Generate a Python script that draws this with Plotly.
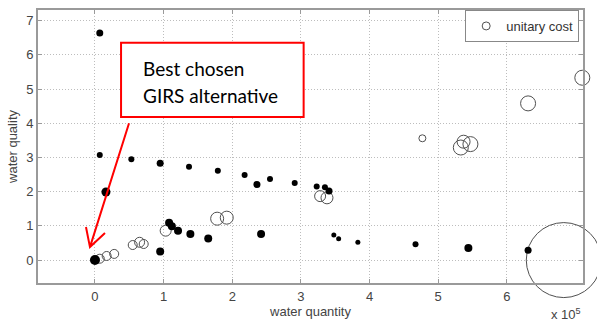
import plotly.graph_objects as go

# ---- data (x in units of 1e5) ----
quality_x = [0.07, 0.07, 0.16, 0.53, 0.95, 1.37, 1.79, 2.18, 2.36, 2.55, 2.91, 3.23, 3.35, 3.41,
             3.48, 3.55, 3.83, 4.67, 5.44, 6.31, 0.00, 0.95, 1.08, 1.12, 1.21, 1.39, 1.65, 2.42]
quality_y = [6.64, 3.07, 1.99, 2.95, 2.83, 2.73, 2.61, 2.49, 2.21, 2.37, 2.25, 2.15, 2.13, 2.02,
             0.73, 0.62, 0.52, 0.46, 0.35, 0.29, 0.00, 0.25, 1.09, 0.99, 0.86, 0.76, 0.63, 0.76]
quality_size = [7, 6, 9, 6, 7, 6, 6, 6, 7, 6, 6, 6, 6, 7,
                5, 5, 5, 6, 8, 7, 10, 8, 8, 8, 8, 8, 8, 8]

cost_x = [0.07, 0.17, 0.28, 0.55, 0.65, 0.71, 1.03, 1.78, 1.92, 3.28, 3.38,
          4.77, 5.33, 5.37, 5.47, 6.31, 7.10, 6.83]
cost_y = [0.04, 0.12, 0.18, 0.44, 0.52, 0.47, 0.86, 1.21, 1.24, 1.87, 1.82,
          3.56, 3.29, 3.46, 3.39, 4.58, 5.33, 0.00]
cost_size = [9, 9, 9, 9, 10, 9, 11, 13, 13, 11, 12,
             7, 15, 13, 15, 15, 15, 75]

x_ticks = [0, 1, 2, 3, 4, 5, 6]
y_ticks = [0, 1, 2, 3, 4, 5, 6, 7]

FONT = "Liberation Sans, Arial"

fig = go.Figure()
fig.add_trace(go.Scatter(
    x=cost_x, y=cost_y, mode="markers", name="unitary cost",
    marker=dict(symbol="circle-open", size=cost_size, color="#505050", opacity=1,
                line=dict(width=1)),
    cliponaxis=False, showlegend=False))
# legend-only entry with a small marker
fig.add_trace(go.Scatter(
    x=[None], y=[None], mode="markers", name="unitary cost",
    marker=dict(symbol="circle-open", size=8, color="#505050", opacity=1, line=dict(width=1)),
    showlegend=True))
fig.add_trace(go.Scatter(
    x=quality_x, y=quality_y, mode="markers", name="water quality",
    marker=dict(symbol="circle", size=quality_size, color="black", opacity=1,
                line=dict(width=0)),
    cliponaxis=False, showlegend=False))

axis_common = dict(
    showline=True, linecolor="#9a9a9a", linewidth=2, mirror="allticks",
    ticks="inside", ticklen=4, tickcolor="#9a9a9a", tickwidth=1,
    showgrid=True, gridcolor="#bdbdbd", griddash="1px,2px", gridwidth=1,
    zeroline=False, automargin=False,
    tickfont=dict(family=FONT, size=13, color="#444"),
)
fig.update_xaxes(range=[-0.83, 7.11], tickvals=x_ticks, ticktext=[str(t) for t in x_ticks],
                 title=dict(text="water quantity", standoff=0,
                            font=dict(family=FONT, size=13, color="#444")),
                 **axis_common)
fig.update_yaxes(range=[-0.67, 7.31], tickvals=y_ticks, ticktext=[str(t) for t in y_ticks],
                 title=dict(text="water quality", standoff=6,
                            font=dict(family=FONT, size=13, color="#444")),
                 **axis_common)

# annotation box and arrow
fig.add_shape(type="rect", xref="x", yref="y", x0=0.38, x1=3.04, y0=4.18, y1=6.35,
              line=dict(color="#ff0000", width=2), fillcolor="white", layer="above")
fig.add_shape(type="path", xref="x", yref="y",
              path="M 0.496,4.0 L -0.073,0.38 M -0.131,0.965 L -0.073,0.38 L 0.146,0.79",
              line=dict(color="#ff0000", width=2), layer="above")
fig.add_annotation(xref="x", yref="y", x=0.67, y=5.59, text="Best chosen", showarrow=False,
                   xanchor="left", yanchor="middle",
                   font=dict(family="Lato", size=19, color="black"))
fig.add_annotation(xref="x", yref="y", x=0.67, y=4.82, text="GIRS alternative", showarrow=False,
                   xanchor="left", yanchor="middle",
                   font=dict(family="Lato", size=19, color="black"))
fig.add_annotation(xref="paper", yref="paper", x=1.0, y=-0.115, text="x 10<sup>5</sup>",
                   showarrow=False, xanchor="right", yanchor="middle",
                   font=dict(family=FONT, size=13, color="#444"))

fig.update_layout(
    width=597, height=322,
    margin=dict(l=38, r=14, t=10, b=39),
    paper_bgcolor="white", plot_bgcolor="white",
    legend=dict(x=0.993, y=1.0, xanchor="right", yanchor="top", bgcolor="white",
                bordercolor="#888", borderwidth=1, itemsizing="trace",
                font=dict(family=FONT, size=13, color="#333"),
                tracegroupgap=0, itemwidth=30),
)
fig.write_html("out.html", config={"displayModeBar": False},
               post_script="document.body.style.margin='0';document.body.style.overflow='hidden';")
